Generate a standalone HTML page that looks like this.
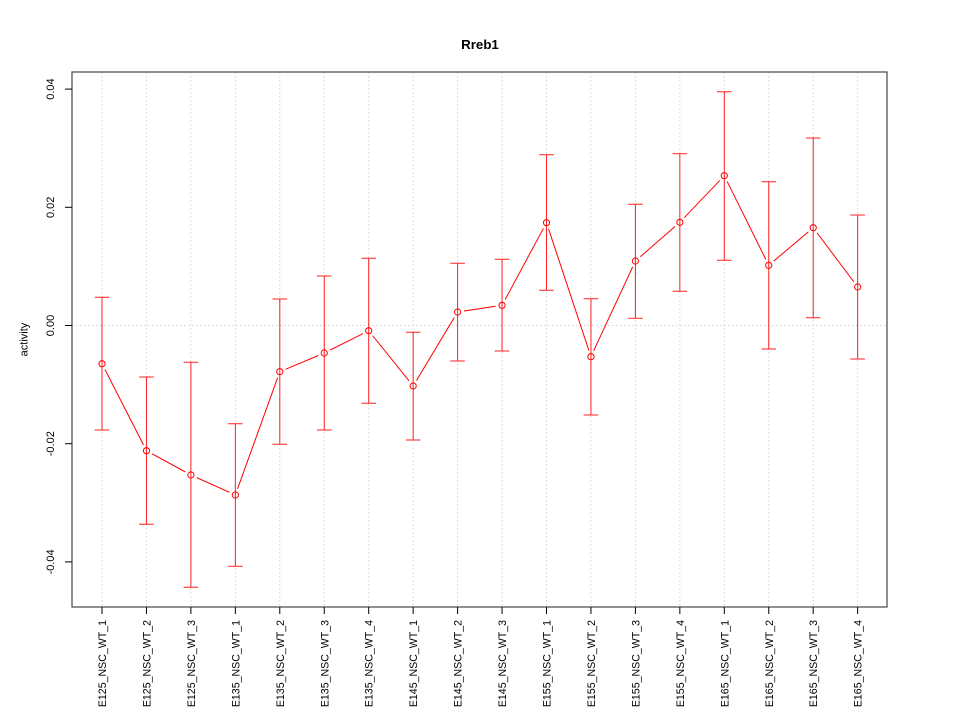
<!DOCTYPE html>
<html><head><meta charset="utf-8"><style>
html,body{margin:0;padding:0;background:#fff;}
svg{display:block;}
text{font-family:"Liberation Sans",Arial,sans-serif;fill:#000;}
</style></head><body>
<svg width="960" height="720" viewBox="0 0 960 720" xmlns="http://www.w3.org/2000/svg">
<defs>
<mask id="m">
<rect x="0" y="0" width="960" height="720" fill="#fff"/>
<g fill="#000">
<circle cx="102" cy="363.7" r="6.5"/><circle cx="146.45" cy="450.7" r="6.5"/><circle cx="190.9" cy="475" r="6.5"/><circle cx="235.35" cy="495" r="6.5"/><circle cx="279.8" cy="371.7" r="6.5"/><circle cx="324.25" cy="353" r="6.5"/><circle cx="368.7" cy="330.7" r="6.5"/><circle cx="413.15" cy="386" r="6.5"/><circle cx="457.6" cy="312" r="6.5"/><circle cx="502.05" cy="305.3" r="6.5"/><circle cx="546.5" cy="222.7" r="6.5"/><circle cx="590.95" cy="356.7" r="6.5"/><circle cx="635.4" cy="261" r="6.5"/><circle cx="679.85" cy="222.3" r="6.5"/><circle cx="724.3" cy="175.7" r="6.5"/><circle cx="768.75" cy="265.3" r="6.5"/><circle cx="813.2" cy="227.7" r="6.5"/><circle cx="857.65" cy="287" r="6.5"/>
</g>
</mask>
</defs>
<!-- grid -->
<g stroke="#d3d3d3" stroke-width="1" stroke-dasharray="1.5,2.5">
<line x1="102" y1="72" x2="102" y2="607"/><line x1="146.45" y1="72" x2="146.45" y2="607"/><line x1="190.9" y1="72" x2="190.9" y2="607"/><line x1="235.35" y1="72" x2="235.35" y2="607"/><line x1="279.8" y1="72" x2="279.8" y2="607"/><line x1="324.25" y1="72" x2="324.25" y2="607"/><line x1="368.7" y1="72" x2="368.7" y2="607"/><line x1="413.15" y1="72" x2="413.15" y2="607"/><line x1="457.6" y1="72" x2="457.6" y2="607"/><line x1="502.05" y1="72" x2="502.05" y2="607"/><line x1="546.5" y1="72" x2="546.5" y2="607"/><line x1="590.95" y1="72" x2="590.95" y2="607"/><line x1="635.4" y1="72" x2="635.4" y2="607"/><line x1="679.85" y1="72" x2="679.85" y2="607"/><line x1="724.3" y1="72" x2="724.3" y2="607"/><line x1="768.75" y1="72" x2="768.75" y2="607"/><line x1="813.2" y1="72" x2="813.2" y2="607"/><line x1="857.65" y1="72" x2="857.65" y2="607"/>
<line x1="72" y1="325.5" x2="887" y2="325.5"/>
</g>
<!-- box -->
<rect x="72" y="72" width="815" height="535" fill="none" stroke="#555" stroke-width="1.3"/>
<!-- y ticks -->
<g stroke="#000" stroke-width="1">
<line x1="65" y1="89.1" x2="72" y2="89.1"/><line x1="65" y1="207.3" x2="72" y2="207.3"/><line x1="65" y1="325.5" x2="72" y2="325.5"/><line x1="65" y1="443.7" x2="72" y2="443.7"/><line x1="65" y1="561.9" x2="72" y2="561.9"/>
</g>
<g font-size="11" text-anchor="middle">
<text transform="translate(54,89.1) rotate(-90)">0.04</text>
<text transform="translate(54,207.3) rotate(-90)">0.02</text>
<text transform="translate(54,325.5) rotate(-90)">0.00</text>
<text transform="translate(54,443.7) rotate(-90)">-0.02</text>
<text transform="translate(54,561.9) rotate(-90)">-0.04</text>
<text transform="translate(27.5,339.5) rotate(-90)">activity</text>
</g>
<!-- x ticks -->
<g stroke="#000" stroke-width="1">
<line x1="102" y1="607" x2="102" y2="614"/><line x1="146.45" y1="607" x2="146.45" y2="614"/><line x1="190.9" y1="607" x2="190.9" y2="614"/><line x1="235.35" y1="607" x2="235.35" y2="614"/><line x1="279.8" y1="607" x2="279.8" y2="614"/><line x1="324.25" y1="607" x2="324.25" y2="614"/><line x1="368.7" y1="607" x2="368.7" y2="614"/><line x1="413.15" y1="607" x2="413.15" y2="614"/><line x1="457.6" y1="607" x2="457.6" y2="614"/><line x1="502.05" y1="607" x2="502.05" y2="614"/><line x1="546.5" y1="607" x2="546.5" y2="614"/><line x1="590.95" y1="607" x2="590.95" y2="614"/><line x1="635.4" y1="607" x2="635.4" y2="614"/><line x1="679.85" y1="607" x2="679.85" y2="614"/><line x1="724.3" y1="607" x2="724.3" y2="614"/><line x1="768.75" y1="607" x2="768.75" y2="614"/><line x1="813.2" y1="607" x2="813.2" y2="614"/><line x1="857.65" y1="607" x2="857.65" y2="614"/>
</g>
<g font-size="10.6" text-anchor="end">
<text transform="translate(106,620) rotate(-90)">E125_NSC_WT_1</text>
<text transform="translate(150.45,620) rotate(-90)">E125_NSC_WT_2</text>
<text transform="translate(194.9,620) rotate(-90)">E125_NSC_WT_3</text>
<text transform="translate(239.35,620) rotate(-90)">E135_NSC_WT_1</text>
<text transform="translate(283.8,620) rotate(-90)">E135_NSC_WT_2</text>
<text transform="translate(328.25,620) rotate(-90)">E135_NSC_WT_3</text>
<text transform="translate(372.7,620) rotate(-90)">E135_NSC_WT_4</text>
<text transform="translate(417.15,620) rotate(-90)">E145_NSC_WT_1</text>
<text transform="translate(461.6,620) rotate(-90)">E145_NSC_WT_2</text>
<text transform="translate(506.05,620) rotate(-90)">E145_NSC_WT_3</text>
<text transform="translate(550.5,620) rotate(-90)">E155_NSC_WT_1</text>
<text transform="translate(594.95,620) rotate(-90)">E155_NSC_WT_2</text>
<text transform="translate(639.4,620) rotate(-90)">E155_NSC_WT_3</text>
<text transform="translate(683.85,620) rotate(-90)">E155_NSC_WT_4</text>
<text transform="translate(728.3,620) rotate(-90)">E165_NSC_WT_1</text>
<text transform="translate(772.75,620) rotate(-90)">E165_NSC_WT_2</text>
<text transform="translate(817.2,620) rotate(-90)">E165_NSC_WT_3</text>
<text transform="translate(861.65,620) rotate(-90)">E165_NSC_WT_4</text>
</g>
<!-- title -->
<text x="480" y="49" font-size="13.3" font-weight="bold" text-anchor="middle">Rreb1</text>
<!-- error bars -->
<g stroke="#ff2020" stroke-width="1" fill="none">
<path d="M102 297.3V430M94.7 297.3H109.3M94.7 430H109.3"/>
<path d="M146.45 377V524.3M139.15 377H153.75M139.15 524.3H153.75"/>
<path d="M190.9 362.3V587.3M183.6 362.3H198.2M183.6 587.3H198.2"/>
<path d="M235.35 423.7V566.3M228.05 423.7H242.65M228.05 566.3H242.65"/>
<path d="M279.8 299V444.3M272.5 299H287.1M272.5 444.3H287.1"/>
<path d="M324.25 276V430M316.95 276H331.55M316.95 430H331.55"/>
<path d="M368.7 258.3V403.3M361.4 258.3H376M361.4 403.3H376"/>
<path d="M413.15 332.3V440M405.85 332.3H420.45M405.85 440H420.45"/>
<path d="M457.6 263.3V361M450.3 263.3H464.9M450.3 361H464.9"/>
<path d="M502.05 259.3V351M494.75 259.3H509.35M494.75 351H509.35"/>
<path d="M546.5 154.7V290.3M539.2 154.7H553.8M539.2 290.3H553.8"/>
<path d="M590.95 298.7V415M583.65 298.7H598.25M583.65 415H598.25"/>
<path d="M635.4 204.3V318.3M628.1 204.3H642.7M628.1 318.3H642.7"/>
<path d="M679.85 153.7V291.3M672.55 153.7H687.15M672.55 291.3H687.15"/>
<path d="M724.3 91.7V260.3M717 91.7H731.6M717 260.3H731.6"/>
<path d="M768.75 181.7V349M761.45 181.7H776.05M761.45 349H776.05"/>
<path d="M813.2 138V317.7M805.9 138H820.5M805.9 317.7H820.5"/>
<path d="M857.65 215V359M850.35 215H864.95M850.35 359H864.95"/>
</g>
<!-- connecting line -->
<polyline mask="url(#m)" fill="none" stroke="#ff0000" stroke-width="1" points="102,363.7 146.45,450.7 190.9,475 235.35,495 279.8,371.7 324.25,353 368.7,330.7 413.15,386 457.6,312 502.05,305.3 546.5,222.7 590.95,356.7 635.4,261 679.85,222.3 724.3,175.7 768.75,265.3 813.2,227.7 857.65,287"/>
<!-- points -->
<g fill="none" stroke="#ff0000" stroke-width="1">
<circle cx="102" cy="363.7" r="3.1"/><circle cx="146.45" cy="450.7" r="3.1"/><circle cx="190.9" cy="475" r="3.1"/><circle cx="235.35" cy="495" r="3.1"/><circle cx="279.8" cy="371.7" r="3.1"/><circle cx="324.25" cy="353" r="3.1"/><circle cx="368.7" cy="330.7" r="3.1"/><circle cx="413.15" cy="386" r="3.1"/><circle cx="457.6" cy="312" r="3.1"/><circle cx="502.05" cy="305.3" r="3.1"/><circle cx="546.5" cy="222.7" r="3.1"/><circle cx="590.95" cy="356.7" r="3.1"/><circle cx="635.4" cy="261" r="3.1"/><circle cx="679.85" cy="222.3" r="3.1"/><circle cx="724.3" cy="175.7" r="3.1"/><circle cx="768.75" cy="265.3" r="3.1"/><circle cx="813.2" cy="227.7" r="3.1"/><circle cx="857.65" cy="287" r="3.1"/>
</g>
</svg>
</body></html>
